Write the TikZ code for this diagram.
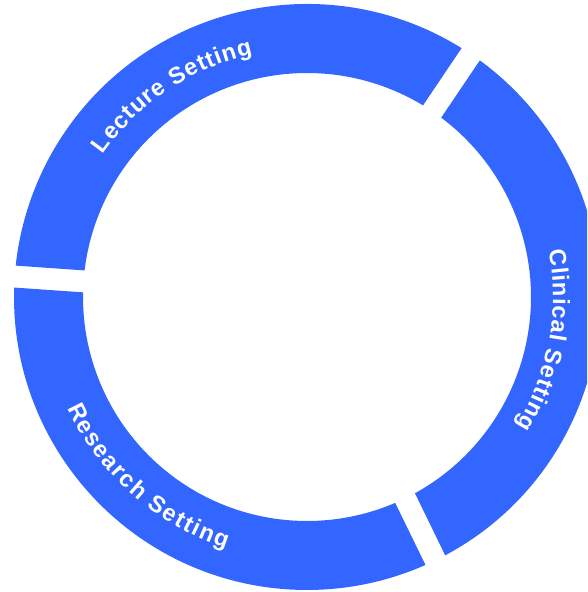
\documentclass[tikz,border=0pt]{standalone}
\usepackage{fontspec}
\setmainfont{Liberation Sans}
\usetikzlibrary{decorations.text,calc}
\definecolor{ringblue}{HTML}{3366FF}
\newcommand\ringfont{\fontsize{23.5}{23.5}\selectfont\bfseries}
\begin{document}
\begin{tikzpicture}[x=1pt,y=1pt,
  segment/.style={fill=ringblue,draw=none},
  ringlabel/.style={decorate,decoration={text along path,text align=fit to path,text color=white,text={|\ringfont|#1}}}
]
\useasboundingbox (0,0) rectangle (587,592);
\clip (0,0) rectangle (587,592);
\coordinate (c) at (307,295);
% Lecture segment (56 -- 176 deg)
\fill[segment] ($(c)+(58.15:293pt)$) arc[start angle=58.15,end angle=173.85,radius=293pt]
  -- ($(c)+(173.19:224pt)$) arc[start angle=173.19,end angle=58.81,radius=224pt] -- cycle;
% Research segment (176 -- 296 deg)
\fill[segment] ($(c)+(178.15:293pt)$) arc[start angle=178.15,end angle=293.85,radius=293pt]
  -- ($(c)+(293.19:224pt)$) arc[start angle=293.19,end angle=178.81,radius=224pt] -- cycle;
% Clinical segment (296 -- 416 deg)
\fill[segment] ($(c)+(298.15:293pt)$) arc[start angle=298.15,end angle=413.85,radius=293pt]
  -- ($(c)+(413.19:224pt)$) arc[start angle=413.19,end angle=298.81,radius=224pt] -- cycle;
% labels
\path[ringlabel={Lecture Setting}] ($(c)+(145:249pt)$) arc[start angle=145,end angle=102.6,radius=249pt];
\path[ringlabel={Clinical Setting}] ($(c)+(10.9:246pt)$) arc[start angle=10.9,end angle=-31.7,radius=246pt];
\path[ringlabel={Research Setting}] ($(c)+(204.9:264pt)$) arc[start angle=204.9,end angle=252.1,radius=264pt];
\end{tikzpicture}
\end{document}
